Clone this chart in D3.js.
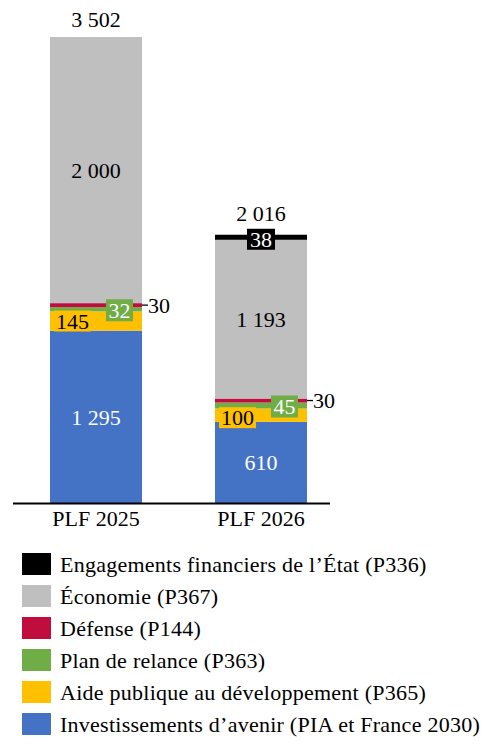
<!DOCTYPE html>
<html><head><meta charset="utf-8">
<script src="https://cdn.jsdelivr.net/npm/d3@7"></script>
<style>body{margin:0;background:#fff}svg{display:block}text{font-family:"Liberation Serif",serif}</style>
</head><body><svg id="c" width="494" height="750"></svg>
<script>
const categories = ["PLF 2025", "PLF 2026"];
const seriesNames = ["Investissements d’avenir (PIA et France 2030)", "Aide publique au développement (P365)", "Plan de relance (P363)", "Défense (P144)", "Économie (P367)", "Engagements financiers de l’État (P336)"];
const seriesKeys = ["pia", "apd", "relance", "defense", "economie", "engagements"];
const seriesColors = ["#4472C4", "#FFC000", "#70AD47", "#C00D3E", "#BFBFBF", "#000000"];
const pia = [1295, 610];
const apd = [145, 100];
const relance = [32, 45];
const defense = [30, 30];
const economie = [2000, 1193];
const engagements = [0, 38];
const totals = [3502, 2016];

const valuesByKey = {pia, apd, relance, defense, economie, engagements};
const rows = categories.map((c, i) => {
  const r = {cat: c};
  seriesKeys.forEach(k => r[k] = valuesByKey[k][i]);
  return r;
});
const fmt = v => d3.format(",")(v).replace(/,/g, " ");
const FS = 22;

const svg = d3.select("#c");
const x = d3.scaleBand().domain(categories).range([50, 307]).paddingInner(0.4424).paddingOuter(0);
const y = d3.scaleLinear().domain([0, d3.max(totals)]).range([503, 37]);
const stack = d3.stack().keys(seriesKeys)(rows);
const color = d3.scaleOrdinal().domain(seriesKeys).range(seriesColors);

const g = svg.append("g");
stack.forEach(layer => {
  g.selectAll(null).data(layer.filter(d => d[1] > d[0])).join("rect")
    .attr("x", d => x(d.data.cat)).attr("width", x.bandwidth())
    .attr("y", d => y(d[1])).attr("height", d => y(d[0]) - y(d[1]))
    .attr("fill", color(layer.key));
});

// axis line
svg.append("line").attr("x1", 13).attr("x2", 330).attr("y1", 503.5).attr("y2", 503.5)
  .attr("stroke", "#000").attr("stroke-width", 2);
const xAxis = svg.append("g").attr("transform", "translate(0,504)")
  .call(d3.axisBottom(x).tickSize(0).tickPadding(6));
xAxis.select(".domain").remove();
xAxis.selectAll("text").attr("font-size", FS).attr("fill", "#000").attr("font-family", "Liberation Serif");

const L = svg.append("g").attr("font-size", FS);
function mid(layer, i) { const d = stack[seriesKeys.indexOf(layer)][i]; return (y(d[0]) + y(d[1])) / 2; }

// large centered labels
[["pia", "#fff"], ["economie", "#000"]].forEach(([k, col]) => {
  categories.forEach((c, i) => {
    L.append("text").attr("x", x(c) + x.bandwidth() / 2).attr("y", mid(k, i))
      .attr("dy", "0.35em").attr("text-anchor", "middle").attr("fill", col).text(fmt(valuesByKey[k][i]));
  });
});
// totals
categories.forEach((c, i) => {
  L.append("text").attr("x", x(c) + x.bandwidth() / 2).attr("y", y(totals[i]) - 10 - (engagements[i] > 0 ? 4 : 0))
    .attr("text-anchor", "middle").attr("fill", "#000").text(fmt(totals[i]));
});

function boxLabel(cx, cy, txt, bg, fg, w, h) {
  L.append("rect").attr("x", cx - w / 2).attr("y", cy - h / 2).attr("width", w).attr("height", h).attr("fill", bg);
  L.append("text").attr("x", cx).attr("y", cy).attr("dy", "0.35em").attr("text-anchor", "middle").attr("fill", fg).text(txt);
}
categories.forEach((c, i) => {
  const bx = x(c), bw = x.bandwidth();
  // APD
  boxLabel(bx + bw * 0.245, mid("apd", i) + (i === 1 ? 2.5 : 0), fmt(apd[i]), "#FFC000", "#000", 37, 21);
  // relance
  boxLabel(bx + bw * 0.755, mid("relance", i) + 1, fmt(relance[i]), "#70AD47", "#fff", 27, 22);
  // defense leader
  const dy = mid("defense", i);
  L.append("line").attr("x1", bx + bw).attr("x2", bx + bw + 6).attr("y1", dy).attr("y2", dy).attr("stroke", "#000").attr("stroke-width", 1.3);
  L.append("text").attr("x", bx + bw + 6).attr("y", dy).attr("dy", "0.35em").attr("fill", "#000").text(fmt(defense[i]));
  // engagements
  if (engagements[i] > 0) boxLabel(bx + bw / 2, mid("engagements", i) + 2, fmt(engagements[i]), "#000", "#fff", 28, 21);
});

// legend
const legOrder = [5, 4, 3, 2, 1, 0];
const leg = svg.append("g").attr("font-size", FS).attr("letter-spacing", "0.25px");
legOrder.forEach((si, j) => {
  const yy = 553 + j * 32;
  leg.append("rect").attr("x", 22).attr("y", yy).attr("width", 29).attr("height", 22).attr("fill", seriesColors[si]);
  leg.append("text").attr("x", 60).attr("y", yy + 11).attr("dy", "0.35em").attr("fill", "#000").text(seriesNames[si]);
});
</script></body></html>
